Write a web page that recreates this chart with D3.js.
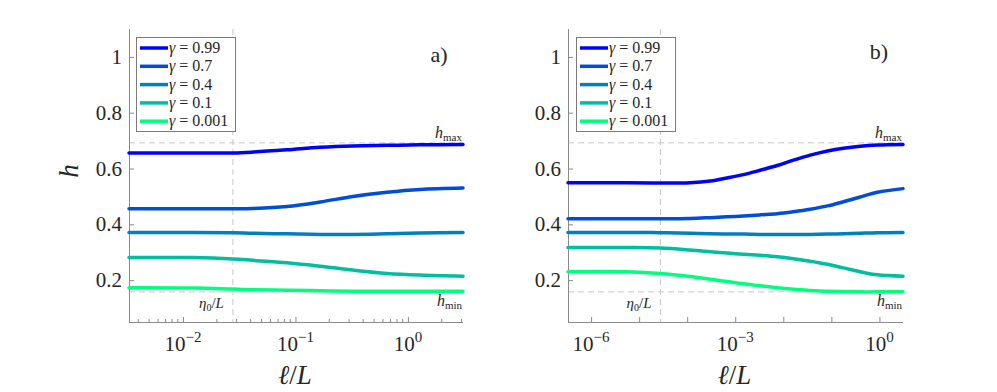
<!DOCTYPE html>
<html>
<head>
<meta charset="utf-8">
<script src="https://cdn.jsdelivr.net/npm/d3@7"></script>
<style>
  body { margin: 0; background: #fff; }
  svg { display: block; font-family: "Liberation Serif", "DejaVu Serif", serif; }
</style>
</head>
<body>
<div id="chart"></div>
<script>
// gamma values and colours (winter colormap, reversed)
const gammaLabels = ['0.99', '0.7', '0.4', '0.1', '0.001'];
const seriesColors = ['#0000ff', '#004dd9', '#0080bf', '#00bf9f', '#00ff80'];

// reference levels
const hMax = 0.692;
const hMin = 0.158;

// panel a) : x as log10(l/L)
const panelAExp = [-2.48, -1.91, -1.556, -1.378, -1.076, -0.782, -0.489, -0.187, 0.107, 0.49];
const panelAEta = 0.0278;
const panelAH099 = [0.656, 0.656, 0.656, 0.659, 0.667, 0.676, 0.681, 0.683, 0.685, 0.686];
const panelAH07 = [0.456, 0.456, 0.456, 0.457, 0.464, 0.480, 0.500, 0.515, 0.525, 0.530];
const panelAH04 = [0.371, 0.371, 0.370, 0.368, 0.366, 0.364, 0.364, 0.366, 0.369, 0.371];
const panelAH01 = [0.281, 0.281, 0.276, 0.271, 0.262, 0.250, 0.236, 0.224, 0.218, 0.214];
const panelAH0001 = [0.173, 0.172, 0.168, 0.166, 0.164, 0.162, 0.160, 0.160, 0.160, 0.160];

// panel b)
const panelBExp = [-6.48, -5.25, -4.56, -3.94, -3.52, -3.17, -2.83, -2.48, -2.125, -1.79, -1.44, -1.08, -0.75, -0.40, -0.04, 0.49];
const panelBEta = 2.78e-5;
const panelBH099 = [0.549, 0.549, 0.548, 0.549, 0.555, 0.566, 0.578, 0.594, 0.611, 0.630, 0.648, 0.663, 0.673, 0.680, 0.684, 0.686];
const panelBH07 = [0.420, 0.420, 0.420, 0.421, 0.424, 0.427, 0.430, 0.434, 0.438, 0.445, 0.454, 0.466, 0.481, 0.498, 0.515, 0.528];
const panelBH04 = [0.371, 0.371, 0.370, 0.368, 0.366, 0.365, 0.365, 0.364, 0.364, 0.364, 0.364, 0.365, 0.366, 0.368, 0.370, 0.371];
const panelBH01 = [0.317, 0.317, 0.315, 0.308, 0.302, 0.297, 0.293, 0.289, 0.284, 0.277, 0.268, 0.257, 0.244, 0.230, 0.219, 0.214];
const panelBH0001 = [0.230, 0.230, 0.224, 0.213, 0.203, 0.195, 0.187, 0.180, 0.173, 0.167, 0.163, 0.160, 0.159, 0.158, 0.158, 0.158];

const yTicks = [0.2, 0.4, 0.6, 0.8, 1];

const W = 997, H = 392;
const svg = d3.select('#chart').append('svg').attr('width', W).attr('height', H);
svg.append('rect').attr('width', W).attr('height', H).attr('fill', '#fff');

const textColor = '#262626';
const axisColor = '#8a8a8a';
const gridColor = '#c8c8c8';

function drawPanel(p) {
    const g = svg.append('g');
    const x = d3.scaleLog().domain(p.domain).range([p.left, p.right]);
    const y = d3.scaleLinear().domain([0.05, 1.1]).range([322, 29]);
    const top = y.range()[1], bottom = y.range()[0];

    // dashed reference lines
    [hMax, hMin].forEach(v => {
        g.append('line')
            .attr('x1', p.left).attr('x2', p.right)
            .attr('y1', y(v)).attr('y2', y(v))
            .attr('stroke', gridColor).attr('stroke-width', 1).attr('stroke-dasharray', '6,4');
    });
    g.append('line')
        .attr('x1', x(p.eta)).attr('x2', x(p.eta))
        .attr('y1', top).attr('y2', bottom)
        .attr('stroke', gridColor).attr('stroke-width', 1).attr('stroke-dasharray', '6,4');

    // axes
    const xAxis = d3.axisBottom(x)
        .tickValues(p.tickValues)
        .tickSize(-5).tickFormat('');
    const gx = g.append('g').attr('transform', `translate(0,${bottom})`).call(xAxis);
    const yAxis = d3.axisLeft(y).tickValues(yTicks).tickSize(-5).tickFormat('');
    const gy = g.append('g').attr('transform', `translate(${p.left},0)`).call(yAxis);
    [gx, gy].forEach(a => {
        a.select('.domain').attr('stroke', axisColor).attr('stroke-width', 1);
        a.selectAll('.tick line').attr('stroke', axisColor);
    });
    // plain domain lines (no outer ticks)
    gx.select('.domain').attr('d', `M${p.left},0.5H${p.right}`);
    gy.select('.domain').attr('d', `M0.5,${top}V${bottom}`);

    // minor ticks on x
    if (p.minor) {
        const minors = [];
        for (let e = -3; e <= 0; e++) {
            for (let m = 2; m <= 9; m++) {
                const v = m * Math.pow(10, e);
                if (v > p.domain[0] && v < p.domain[1]) minors.push(v);
            }
        }
        g.selectAll('.minor').data(minors).enter().append('line')
            .attr('x1', d => x(d)).attr('x2', d => x(d))
            .attr('y1', bottom).attr('y2', bottom - 3)
            .attr('stroke', axisColor).attr('stroke-width', 1);
    }

    // x tick labels
    const xl = g.selectAll('.xlab').data(p.labelExps).enter().append('text')
        .attr('x', d => x(Math.pow(10, d)))
        .attr('y', 351)
        .attr('text-anchor', 'middle')
        .attr('fill', textColor)
        .attr('font-size', 21);
    xl.append('tspan').text('10');
    xl.append('tspan').attr('dy', -9).attr('font-size', 15).text(d => d < 0 ? '\u2212' + (-d) : d);

    // y tick labels
    g.selectAll('.ylab').data(yTicks).enter().append('text')
        .attr('x', p.left - 7)
        .attr('y', d => y(d) + 7)
        .attr('text-anchor', 'end')
        .attr('fill', textColor)
        .attr('font-size', 21)
        .text(d => d === 1 ? '1' : d.toFixed(1));

    // curves
    const line = d3.line()
        .x(d => x(d.x))
        .y(d => y(d.h))
        .curve(d3.curveCatmullRom.alpha(0.5));
    p.series.forEach((s, i) => {
        const pts = p.exps.map((e, j) => ({x: Math.pow(10, e), h: s[j]}));
        g.append('path')
            .attr('d', line(pts))
            .attr('fill', 'none')
            .attr('stroke', seriesColors[i])
            .attr('stroke-width', 3.5)
            .attr('stroke-linecap', 'round');
    });

    // h_max / h_min labels
    const hmaxT = g.append('text').attr('x', p.right - 1).attr('y', 138)
        .attr('text-anchor', 'end').attr('fill', textColor).attr('font-size', 16);
    hmaxT.append('tspan').attr('font-style', 'italic').text('h');
    hmaxT.append('tspan').attr('font-size', 11).attr('dy', 3).text('max');
    const hminT = g.append('text').attr('x', p.right - 1).attr('y', 306)
        .attr('text-anchor', 'end').attr('fill', textColor).attr('font-size', 16);
    hminT.append('tspan').attr('font-style', 'italic').text('h');
    hminT.append('tspan').attr('font-size', 11).attr('dy', 3).text('min');

    // eta0/L label
    const etaT = g.append('text').attr('x', x(p.eta) - 9).attr('y', 308)
        .attr('text-anchor', 'end').attr('fill', textColor).attr('font-size', 15);
    etaT.append('tspan').attr('font-style', 'italic').text('\u03b7');
    etaT.append('tspan').attr('font-size', 10).attr('dy', 3).text('0');
    etaT.append('tspan').attr('dy', -3).text('/');
    etaT.append('tspan').attr('font-style', 'italic').text('L');

    // axis label
    const xlab = g.append('text').attr('x', (p.left + p.right) / 2 - 1).attr('y', 384)
        .attr('text-anchor', 'middle').attr('fill', textColor).attr('font-size', 27);
    xlab.append('tspan').attr('font-style', 'italic').text('\u2113');
    xlab.append('tspan').text('/');
    xlab.append('tspan').attr('font-style', 'italic').text('L');

    // panel label
    g.append('text').attr('x', p.panelX).attr('y', p.panelY)
        .attr('text-anchor', 'middle').attr('fill', textColor).attr('font-size', 22)
        .text(p.panelLabel);

    // legend
    const lg = g.append('g').attr('transform', `translate(${p.legendX},37)`);
    lg.append('rect').attr('x', 0.5).attr('y', 0.5).attr('width', 99).attr('height', 94)
        .attr('fill', '#fff').attr('stroke', '#7a7a7a').attr('stroke-width', 1);
    gammaLabels.forEach((gl, i) => {
        const yy = 11 + i * 18.3;
        lg.append('line').attr('x1', 4).attr('x2', 32).attr('y1', yy).attr('y2', yy)
            .attr('stroke', seriesColors[i]).attr('stroke-width', 3.5);
        const t = lg.append('text').attr('x', 33).attr('y', yy + 5)
            .attr('fill', textColor).attr('font-size', 16);
        t.append('tspan').attr('font-style', 'italic').text('\u03b3');
        t.append('tspan').text(' = ' + gl);
    });
}

drawPanel({
    left: 129, right: 463,
    domain: [Math.pow(10, -2.48), Math.pow(10, 0.49)],
    tickValues: [0.01, 0.1, 1],
    labelExps: [-2, -1, 0],
    minor: true,
    eta: panelAEta,
    exps: panelAExp,
    series: [panelAH099, panelAH07, panelAH04, panelAH01, panelAH0001],
    legendX: 136,
    panelLabel: 'a)', panelX: 439, panelY: 62
});

drawPanel({
    left: 568, right: 903,
    domain: [Math.pow(10, -6.48), Math.pow(10, 0.49)],
    tickValues: [1e-6, 1e-5, 1e-4, 1e-3, 1e-2, 1e-1, 1],
    labelExps: [-6, -3, 0],
    minor: false,
    eta: panelBEta,
    exps: panelBExp,
    series: [panelBH099, panelBH07, panelBH04, panelBH01, panelBH0001],
    legendX: 576,
    panelLabel: 'b)', panelX: 879, panelY: 59
});

// y axis label (rotated h)
svg.append('text')
    .attr('transform', 'translate(78,171) rotate(-90)')
    .attr('text-anchor', 'middle')
    .attr('fill', textColor)
    .attr('font-size', 27)
    .attr('font-style', 'italic')
    .text('h');
</script>
</body>
</html>
